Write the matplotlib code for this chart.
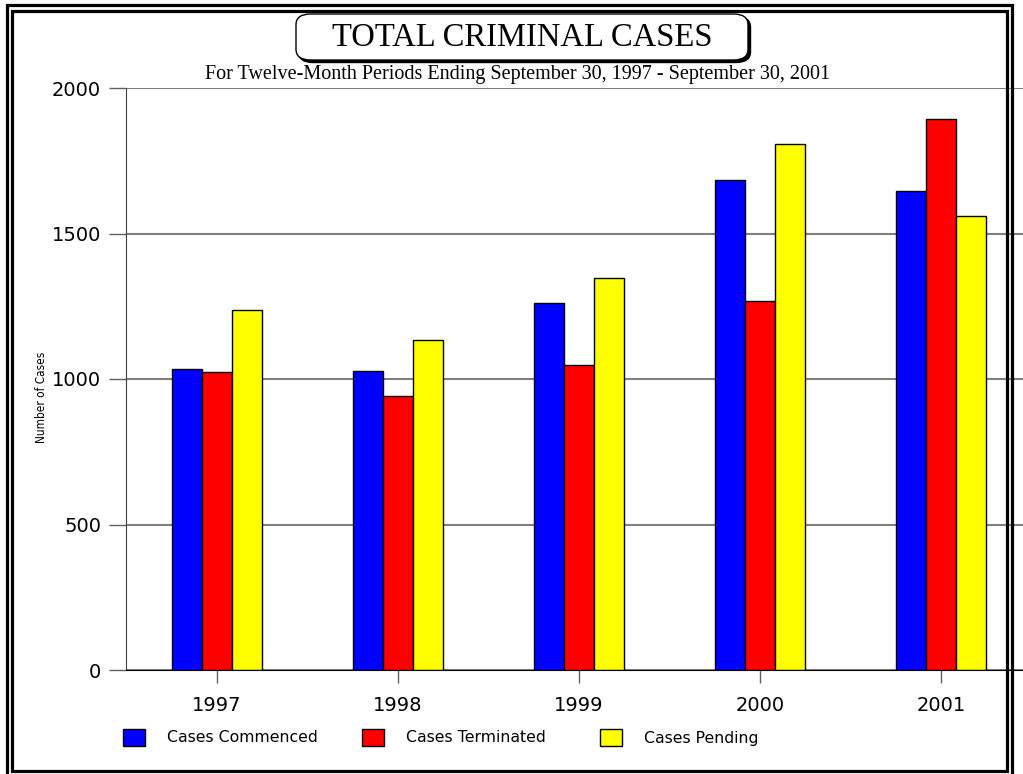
import matplotlib
matplotlib.use("Agg")
import matplotlib.pyplot as plt
import numpy as np
from matplotlib.patches import Rectangle, FancyBboxPatch

# data
years = ["1997", "1998", "1999", "2000", "2001"]
commenced = [1034, 1029, 1260, 1683, 1646]
terminated = [1025, 942, 1048, 1267, 1892]
pending = [1237, 1135, 1346, 1809, 1560]
series_names = ["Cases Commenced", "Cases Terminated", "Cases Pending"]
series_colors = ["#0000ff", "#ff0000", "#ffff00"]
y_ticks = [0, 500, 1000, 1500, 2000]

W, H = 1023, 774
fig = plt.figure(figsize=(W / 100, H / 100), dpi=100)

def fx(x):
    return x / W

def fy(y):
    return 1 - y / H

ax = fig.add_axes([fx(126), fy(670), fx(1023) - fx(126), fy(88) - fy(670)])
x = np.arange(len(years))
bw = 0.166
for i, vals in enumerate([commenced, terminated, pending]):
    ax.bar(x + (i - 1) * bw, vals, width=bw, color=series_colors[i],
           edgecolor="black", linewidth=1, zorder=3)

ax.set_xlim(-0.503, 4.453)
ax.set_ylim(0, 2000)
ax.set_yticks(y_ticks)
ax.set_yticklabels([str(t) for t in y_ticks], fontsize=14, family="DejaVu Sans")
ax.set_xticks(x)
ax.set_xticklabels(years, fontsize=14, family="DejaVu Sans")
ax.yaxis.grid(True, color="#808080", linewidth=1.5, zorder=0)
ax.tick_params(axis="y", length=12, width=1, color="#606060", pad=6)
ax.tick_params(axis="x", length=9, width=1, color="#606060", pad=10)
for s in ["top", "right"]:
    ax.spines[s].set_visible(False)
ax.spines["left"].set_color("#404040")
ax.spines["bottom"].set_color("black")
ax.spines["bottom"].set_zorder(4)
ax.set_ylabel("Number of Cases", fontsize=8.5, family="DejaVu Sans",
              fontstretch="condensed")
ax.yaxis.set_label_coords(-(126 - 48) / (1023 - 126), (670 - 397) / 582)

# double frame around the figure
fig.add_artist(Rectangle((fx(6.5), fy(778)), fx(1011.5) - fx(6.5), fy(4.5) - fy(778),
                         transform=fig.transFigure, fill=False, edgecolor="black",
                         linewidth=2.3, clip_on=False))
fig.add_artist(Rectangle((fx(11.5), fy(770.5)), fx(1006.5) - fx(11.5), fy(10.5) - fy(770.5),
                         transform=fig.transFigure, fill=False, edgecolor="black",
                         linewidth=2.3, clip_on=False))

# title box with shadow
bx0, by0, bx1, by1 = 296, 14, 748, 60
fig.add_artist(FancyBboxPatch((fx(bx0 + 2.5), fy(by1 + 2.5)), fx(bx1) - fx(bx0), fy(by0) - fy(by1),
                              boxstyle="round,pad=0,rounding_size=0.014",
                              transform=fig.transFigure, facecolor="black",
                              edgecolor="black", linewidth=1))
fig.add_artist(FancyBboxPatch((fx(bx0), fy(by1)), fx(bx1) - fx(bx0), fy(by0) - fy(by1),
                              boxstyle="round,pad=0,rounding_size=0.014",
                              transform=fig.transFigure, facecolor="white",
                              edgecolor="black", linewidth=1))
fig.text(fx(522), fy(38), "TOTAL CRIMINAL CASES", ha="center", va="center",
         fontsize=23.5, family="Liberation Serif")
fig.text(fx(518), fy(75), "For Twelve-Month Periods Ending September 30, 1997 - September 30, 2001",
         ha="center", va="center", fontsize=14.5, family="Liberation Serif")

# legend
for i, name in enumerate(series_names):
    lx = 123 + i * 238.5
    fig.add_artist(Rectangle((fx(lx), fy(746)), fx(22), 17 / H, transform=fig.transFigure,
                             facecolor=series_colors[i], edgecolor="black", linewidth=1))
    fig.text(fx(lx + 44), fy(738), name, ha="left", va="center", fontsize=11.3,
             family="DejaVu Sans")

fig.savefig("out.png", dpi=100)
